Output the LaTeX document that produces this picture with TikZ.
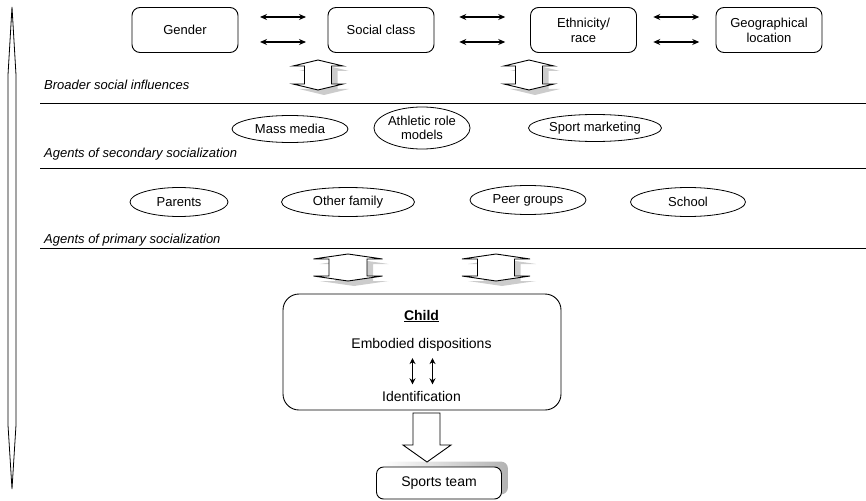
\documentclass[tikz,border=0pt]{standalone}
\usepackage{fontspec}
\setmainfont{Liberation Sans}
\usetikzlibrary{arrows.meta, shapes.geometric, positioning, calc, backgrounds}

\tikzset{
  topbox/.style={draw, line width=0.9pt, rounded corners=8pt, minimum width=106pt, minimum height=45pt, align=center, font=\fontsize{13}{15}\selectfont},
  agent/.style={draw, ellipse, line width=0.8pt, inner sep=0pt, align=center, font=\fontsize{13}{14}\selectfont},
  levellabel/.style={anchor=west, inner sep=0pt, font=\fontsize{13}{15}\selectfont\itshape},
  levelline/.style={line width=1pt},
  link/.style={{Stealth[length=7pt,width=6pt]}-{Stealth[length=7pt,width=6pt]}, line width=1.2pt},
  broad/.style={draw, fill=white, line width=0.9pt},
  broadshadow/.style={fill=black!20},
}
% hollow double arrow: centre x, top y, half head, half shaft, tip length, total length
\newcommand{\broadpath}[4]{(0,0) -- (#1,#3) -- (#2,#3) -- (#2,#4-#3) -- (#1,#4-#3) -- (0,#4) -- (-#1,#4-#3) -- (-#2,#4-#3) -- (-#2,#3) -- (-#1,#3) -- cycle}
\newcommand{\broadarrow}[6]{%
  \fill[broadshadow, shift={(#1+6,#2+5)}] \broadpath{#3}{#4}{#5}{#6};
  \draw[broad, shift={(#1,#2)}] \broadpath{#3}{#4}{#5}{#6};}

\begin{document}
\begin{tikzpicture}[x=1pt, y=-1pt]
             \useasboundingbox (0,0) rectangle (866,500);
             % broader social influences
             \node[topbox] (gender) at (185,30) {Gender};
             \node[topbox] (class) at (381,30) {Social class};
             \node[topbox] (ethnic) at (583.5,30) {Ethnicity/\\race};
             \node[topbox] (geo) at (769,30) {Geographical\\location};
             \foreach \a/\b in {gender/class, class/ethnic, ethnic/geo} {
               \coordinate (mid-\a) at ($(\a.east)!0.5!(\b.west)$);
               \draw[link] ([xshift=-23pt, yshift=13pt]mid-\a) -- ([xshift=23pt, yshift=13pt]mid-\a);
               \draw[link] ([xshift=-23pt, yshift=-12pt]mid-\a) -- ([xshift=23pt, yshift=-12pt]mid-\a);
             }
             \foreach \cx in {318,529} {\broadarrow{\cx}{60}{25}{13.5}{6}{30}}
             \node[levellabel] (broader) at (44,85) {Broader social influences};
             \draw[levelline] (40,104) -- (866,104);
             % secondary socialization
             \node[agent, minimum width=116pt, minimum height=27pt] (media) at (290,129) {Mass media};
             \node[agent, minimum width=96pt, minimum height=42pt] (models) at (422,128) {Athletic role\\models};
             \node[agent, minimum width=133pt, minimum height=27pt] (marketing) at (595,128) {Sport marketing};
             \node[levellabel] (secondary) at (44,154) {Agents of secondary socialization};
             \draw[levelline] (40,168) -- (866,168);
             % primary socialization
             \node[agent, minimum width=98pt, minimum height=29pt] (parents) at (179,202) {Parents};
             \node[agent, minimum width=133pt, minimum height=29pt] (family) at (348,202) {Other family};
             \node[agent, minimum width=116pt, minimum height=29pt] (peers) at (528,200) {Peer groups};
             \node[agent, minimum width=115pt, minimum height=29pt] (school) at (688,202) {School};
             \node[levellabel] (primary) at (44,240) {Agents of primary socialization};
             \draw[levelline] (40,248) -- (866,248);
             \broadarrow{348}{254}{34.5}{19}{5}{27}
             \broadarrow{496}{254}{34}{18.5}{5}{27}
             % child
             \node[draw, line width=0.9pt, rounded corners=16pt, minimum width=278pt, minimum height=116pt] (child) at (422,352) {};
             \node[font=\fontsize{14}{16}\selectfont\bfseries] (childname) at (421.5,316) {\underline{Child}};
             \node[font=\fontsize{14}{16}\selectfont] (embodied) at (421.5,345) {Embodied dispositions};
             \node[font=\fontsize{14}{16}\selectfont] (ident) at (421.5,396) {Identification};
             \foreach \dx in {-9,11}
               \draw[{Stealth[length=6pt,width=6pt]}-{Stealth[length=6pt,width=6pt]}, line width=1.4pt] ([xshift=\dx pt, yshift=-3pt]embodied.south) -- ([xshift=\dx pt, yshift=3pt]ident.north);
             \draw[broad] (413,413) -- (440,413) -- (440,445) -- (451,445) -- (427,462) -- (403,445) -- (413,445) -- cycle;
             % sports team
             \node[draw, fill=white, line width=0.9pt, rounded corners=7pt, minimum width=125pt, minimum height=32pt, font=\fontsize{14}{16}\selectfont] (team) at (439,483) {Sports team};
             \begin{scope}[on background layer]
               \shade[left color=white, right color=black!30, rounded corners=7pt] ([shift={(6pt,5pt)}]team.south west) rectangle ([shift={(6pt,5pt)}]team.north east);
             \end{scope}
             % time axis
             \draw[line width=0.8pt, fill=white] (12,7) -- (16,75) -- (16,425) -- (12,489) -- (8,425) -- (8,75) -- cycle;
         \end{tikzpicture}
\end{document}
